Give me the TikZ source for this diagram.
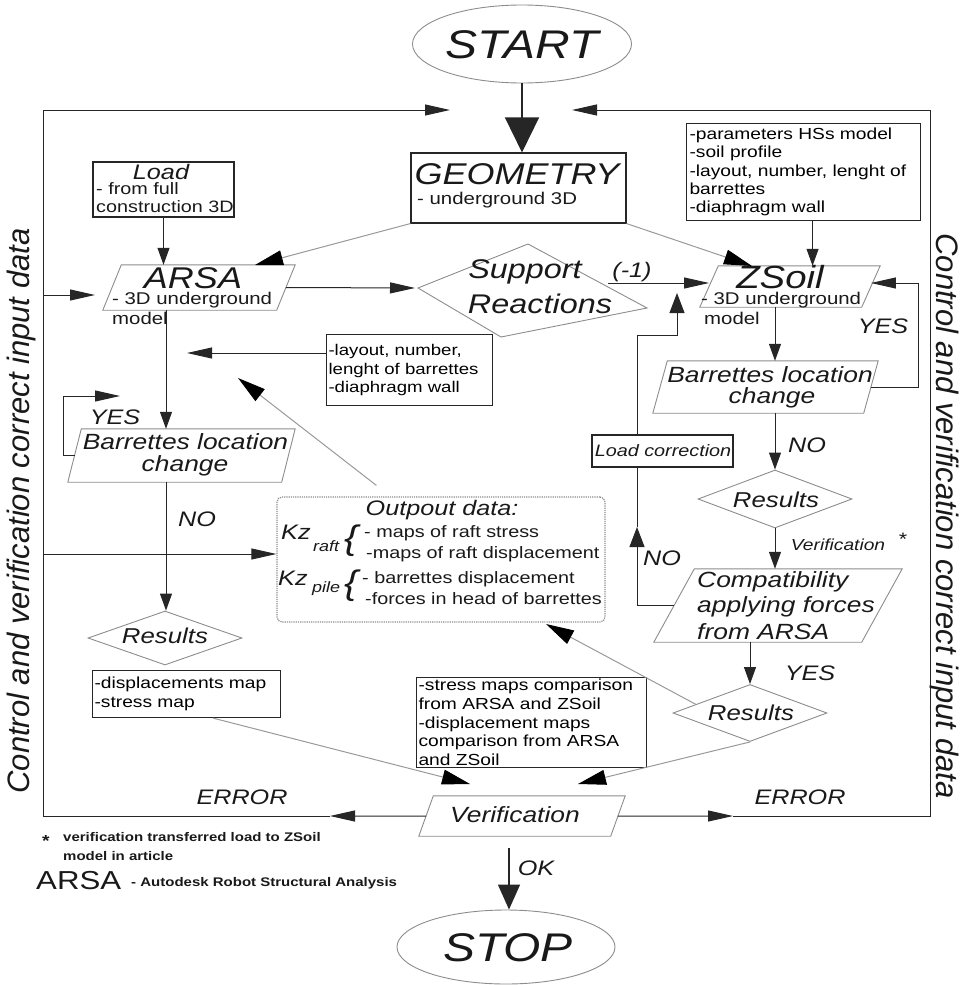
\documentclass[tikz,border=0pt]{standalone}
\usepackage{fontspec}
\setmainfont{Liberation Sans}[FakeStretch=1.2]
\newfontfamily\sidefont{Liberation Sans}
\usetikzlibrary{arrows.meta,shapes.geometric,calc}
\newcommand\fsz[2]{\fontsize{#1pt}{#2pt}\selectfont}
% parallelogram: name, cx, cy, width, height, slant offset
\newcommand\para[6]{%
  \node[inner sep=0pt, minimum width=#4pt, minimum height=#5pt] (#1) at (#2,#3) {};
  \coordinate (#1-tl) at ($(#1.north west)+(#6,0)$);
  \coordinate (#1-tr) at (#1.north east);
  \coordinate (#1-br) at ($(#1.south east)+(-#6,0)$);
  \coordinate (#1-bl) at (#1.south west);
  \coordinate (#1-l) at ($(#1-tl)!0.5!(#1-bl)$);
  \coordinate (#1-r) at ($(#1-tr)!0.5!(#1-br)$);
  \draw[gshape] (#1-tl) -- (#1-tr) -- (#1-br) -- (#1-bl) -- cycle;
}
\begin{document}
\begin{tikzpicture}[x=1pt,y=-1pt,
  gshape/.style={draw=black!45, line width=0.9pt},
  dia/.style={gshape, diamond, inner sep=0pt},
  tbox/.style={draw=black!85, line width=1.1pt, rectangle, inner sep=0pt},
  line/.style={draw=black!85, line width=1pt},
  harr/.style={line, -{Triangle[length=25pt,width=11pt]}},
  varr/.style={line, -{Triangle[length=17pt,width=12pt]}},
  varrb/.style={line, -{Triangle[length=20pt,width=15pt]}},
  garr/.style={draw=black!40, line width=1pt, -{Triangle[length=28pt,width=15pt,black]}},
  bigarr/.style={line, line width=1.5pt, -{Triangle[length=35pt,width=34pt]}},
  okarr/.style={line, line width=1.3pt, -{Triangle[length=25pt,width=22pt]}},
  txt/.style={inner sep=0pt, anchor=west, text=black!90},
  ctxt/.style={inner sep=0pt, anchor=center, text=black!90},
  lbl/.style={ctxt, font=\itshape\fsz{21}{22}}
]
\useasboundingbox (0,0) rectangle (963,985);

% ---------- shapes ----------
\node[gshape, ellipse, minimum width=219pt, minimum height=78pt] (start) at (522,44) {};
\node[ctxt, font=\itshape\fsz{40}{42}] (startT) at (522,45) {START};
\node[gshape, ellipse, minimum width=218pt, minimum height=74pt] (stop) at (506,947) {};
\node[ctxt, font=\itshape\fsz{40}{42}] (stopT) at (508,948) {STOP};

\node[tbox, minimum width=215pt, minimum height=70pt] (geo) at (518.5,188) {};
\node[ctxt, font=\itshape\fsz{30}{32}] (geoT) at (517,174) {GEOMETRY};
\node[txt, font=\fsz{17}{19}] (geoS) at (417,200) {- underground 3D};

\node[tbox, minimum width=141pt, minimum height=55pt] (load) at (163.5,189.5) {};
\node[ctxt, font=\itshape\fsz{21}{22}] (loadT) at (161,172) {Load};
\node[txt, font=\fsz{16.5}{18}] (loadS1) at (96,189) {- from full};
\node[txt, font=\fsz{16.5}{18}] (loadS2) at (96,207) {construction 3D};

\node[tbox, anchor=north west, minimum width=234pt, minimum height=97pt, text width=228pt, inner xsep=3pt, align=left, font=\fsz{16}{18.3}] (param) at (686,123)
  {-parameters HSs model\\-soil profile\\-layout, number, lenght of\\barrettes\\-diaphragm wall};

\para{arsa}{199}{287.5}{192}{45}{18.5}
\node[ctxt, font=\itshape\fsz{30}{32}] (arsaT) at (193,278) {ARSA};
\node[txt, font=\fsz{17}{19}] (arsaS) at (112,300) {- 3D underground};
\node[txt, font=\fsz{17}{19}] (arsaM) at (112,318) {model};

\para{zsoil}{790}{286.5}{180}{41}{18.5}
\node[ctxt, font=\itshape\fsz{32}{34}] (zsoilT) at (780,277) {ZSoil};
\node[txt, font=\fsz{17}{19}] (zsoilS) at (701,300) {- 3D underground};
\node[txt, font=\fsz{17}{19}] (zsoilM) at (704,318) {model};

\coordinate (supL) at (418,288);
\coordinate (supT) at (528,244);
\coordinate (supR) at (647,308);
\coordinate (supB) at (501,337);
\draw[gshape] (supL) -- (supT) -- (supR) -- (supB) -- cycle;
\node[ctxt, font=\itshape\fsz{27}{29}] (supA) at (525,272) {Support};
\node[ctxt, font=\itshape\fsz{27}{29}] (supC) at (540,304) {Reactions};

\node[tbox, anchor=north west, minimum width=166pt, minimum height=71pt, text width=162pt, inner xsep=2pt, align=left, font=\fsz{15.5}{18.5}] (lay) at (326,334)
  {-layout, number,\\lenght of barrettes\\-diaphragm wall};

\para{bl}{181.5}{455.5}{227}{53}{13.5}
\node[ctxt, font=\itshape\fsz{22}{24}] (blT1) at (185.5,442) {Barrettes location};
\node[ctxt, font=\itshape\fsz{22}{24}] (blT2) at (185,466) {change};

\para{br}{765.5}{387}{225}{52}{14.5}
\node[ctxt, font=\itshape\fsz{22}{24}] (brT1) at (770,375) {Barrettes location};
\node[ctxt, font=\itshape\fsz{22}{24}] (brT2) at (772,398) {change};

\node[tbox, minimum width=141pt, minimum height=32pt] (lc) at (662.5,451) {};
\node[ctxt, font=\itshape\fsz{16.5}{18}] (lcT) at (663,451) {Load correction};

\node[dia, minimum width=154pt, minimum height=58pt] (res2) at (775,499) {};
\node[ctxt, font=\itshape\fsz{21.5}{23}] (res2T) at (776,500) {Results};

\para{compat}{778}{605.5}{248}{73}{40.5}
\node[txt, font=\itshape\fsz{22}{24}] (cT1) at (697,582) {Compatibility};
\node[txt, font=\itshape\fsz{22}{24}] (cT2) at (697,607) {applying forces};
\node[txt, font=\itshape\fsz{22}{24}] (cT3) at (697,632) {from ARSA};

\node[draw=black!45, densely dotted, rounded corners=5pt, line width=1.2pt, minimum width=328pt, minimum height=125pt] (out) at (441,559.5) {};
\node[ctxt, font=\itshape\fsz{21}{22}] (outT) at (442,510) {Outpout data:};
\node[txt, font=\itshape\fsz{21}{22}] (kz1) at (281,532) {Kz};
\node[txt, font=\itshape\fsz{15}{16}] (kz1s) at (313,546) {raft};
\node[txt, font=\itshape\fsz{34}{34}] (brace1) at (344,541) {\{};
\node[txt, font=\fsz{16.5}{18}] (o1) at (364,533) {- maps of raft stress};
\node[txt, font=\fsz{16.5}{18}] (o2) at (366,554) {-maps of raft displacement};
\node[txt, font=\itshape\fsz{21}{22}] (kz2) at (278,578) {Kz};
\node[txt, font=\itshape\fsz{15}{16}] (kz2s) at (312,589) {pile};
\node[txt, font=\itshape\fsz{34}{34}] (brace2) at (344,586) {\{};
\node[txt, font=\fsz{16.5}{18}] (o3) at (362,579) {- barrettes displacement};
\node[txt, font=\fsz{16.5}{18}] (o4) at (365,599) {-forces in head of barrettes};

\node[dia, minimum width=154pt, minimum height=54pt] (res1) at (165,638) {};
\node[ctxt, font=\itshape\fsz{21.5}{23}] (res1T) at (165,636) {Results};

\node[tbox, anchor=north west, minimum width=188pt, minimum height=47pt, text width=184pt, inner xsep=2pt, align=left, font=\fsz{16}{19}] (disp) at (92,670)
  {-displacements map\\-stress map};

\node[dia, minimum width=154pt, minimum height=57pt] (res3) at (750,713) {};
\node[ctxt, font=\itshape\fsz{21.5}{23}] (res3T) at (751,713) {Results};

\node[tbox, anchor=north west, minimum width=230pt, minimum height=90pt, text width=226pt, inner xsep=2pt, align=left, font=\fsz{16}{18.7}] (stress) at (416,677)
  {-stress maps comparison\\from ARSA and ZSoil\\-displacement maps\\comparison from ARSA\\and ZSoil};

\para{ver}{522}{816}{206}{40}{14.5}
\node[ctxt, font=\itshape\fsz{22}{24}] (verT) at (515,815) {Verification};

% ---------- frame and connectors ----------
\coordinate (fTL) at (43,110);
\coordinate (fTR) at (930,110);
\coordinate (fBL) at (43,816);
\coordinate (fBR) at (930,816);
\coordinate (tipL) at (450,110);
\coordinate (tipR) at (572,110);
\coordinate (eL) at (330,816);
\coordinate (eR) at (733,816);
\coordinate (fL1) at (43,295);
\coordinate (aL) at (95,295);
\coordinate (fL2) at (43,554);

\draw[bigarr] (start.south) -- (start.south |- geo.north);
\draw[harr] (ver-l) -- (eL);
\draw[harr] (eL) -- (fBL) -- (fTL) -- (tipL);
\draw[harr] (ver-r) -- (eR);
\draw[harr] (eR) -- (fBR) -- (fTR) -- (tipR);
\draw[harr] (fL1) -- (aL);
\draw[harr] (fL2) -- (fL2 -| out.west);

\draw[varr] (load.south) -- (load.south |- arsa.north);
\coordinate (aT) at (255,265);
\coordinate (zT) at (752,266);
\draw[garr] (geo.south west) -- (aT);
\draw[garr] (geo.south east) -- (zT);
\path ($(param.south)+(9,0)$) coordinate (pp);
\draw[varr] (pp) -- (pp |- zsoil.north);

\draw[harr, shorten >=3pt] (arsa-r) -- (supL);
\coordinate (supO) at (608,283);
\draw[harr] (supO) -- (supO -| zsoil-l);
\node[lbl] (m1) at (632,272) {(-1)};

\coordinate (lcx) at (637,0);
\coordinate (lcb) at (677,335);
\draw[varrb, shorten >=10pt] (lcx |- lc.north) -- (lcx |- lcb) -- (lcb) -- (lcb |- supO);

\coordinate (zx) at (775,0);
\draw[varr] (zx |- zsoil.south) -- (zx |- br.north);
\draw[varr] (zx |- br.south) -- (res2.north);
\node[lbl] (noR) at (807,445) {NO};
\coordinate (yr) at (918,283);
\draw[harr] (br-r) -| (yr) -- (yr -| zsoil-r);
\node[lbl] (yesR) at (883,326) {YES};

\draw[varr] (res2.south) -- (res2.south |- compat.north);
\node[ctxt, font=\itshape\fsz{16}{18}] (verL) at (838,545) {Verification};
\node[ctxt, font=\fsz{18}{18}] (verS) at (903,539) {*};

\coordinate (nl) at (637,527);
\draw[varrb] (compat-l) -| (nl);
\draw[line] (nl) -- (lcx |- lc.south);
\node[lbl] (noC) at (662,558) {NO};

\coordinate (cx) at (750,0);
\draw[varr] (cx |- compat.south) -- (res3.north);
\node[lbl] (yesC) at (810,673) {YES};

\coordinate (oT) at (546,624);
\coordinate (vtR) at (578,784);
\coordinate (vtL) at (470,784);
\draw[garr] ($(res3.west)!0.3!(res3.north)$) -- (oT);
\draw[garr] (res3.south) -- (vtR);
\draw[garr] ($(disp.south west)!0.64!(disp.south east)$) -- (vtL);
\coordinate (ga) at (238,378);
\draw[garr] ($(out.north west)+(100,-11)$) -- (ga);

\coordinate (ly) at (187,353);
\draw[harr] (ly -| lay.west) -- (ly);

\coordinate (ax) at (166,0);
\draw[varr] (ax |- arsa.south) -- (ax |- bl.north);
\draw[varr] (ax |- bl.south) -- (ax |- res1.north);
\node[lbl] (noL) at (197,519) {NO};
\coordinate (yl) at (63,396);
\coordinate (ylt) at (120,396);
\draw[harr] (bl-l) -| (yl) -- (ylt);
\node[lbl] (yesL) at (115,417) {YES};

\node[lbl] (errL) at (242,797) {ERROR};
\node[lbl] (errR) at (800,797) {ERROR};

\coordinate (okx) at (509,848);
\draw[okarr] (okx) -- (okx |- stop.north);
\node[lbl] (okT) at (536,868) {OK};

% ---------- side texts ----------
\node[ctxt, rotate=90, font=\sidefont\itshape\fsz{31}{33}] (sideL) at (21,511) {Control and verification correct input data};
\node[ctxt, rotate=-90, font=\sidefont\itshape\fsz{31}{33}] (sideR) at (945,516) {Control and verification correct input data};

% ---------- legend ----------
\node[txt, font=\bfseries\fsz{16}{16}] (star) at (42,841) {*};
\node[txt, font=\bfseries\fsz{12.5}{14}] (leg1) at (63,837) {verification transferred load to ZSoil};
\node[txt, font=\bfseries\fsz{12.5}{14}] (leg2) at (63,856) {model in article};
\node[txt, font=\fsz{26}{28}] (leg3) at (36,881) {ARSA};
\node[txt, font=\bfseries\fsz{12.5}{14}] (leg4) at (131,883) {- Autodesk Robot Structural Analysis};
\end{tikzpicture}
\end{document}
